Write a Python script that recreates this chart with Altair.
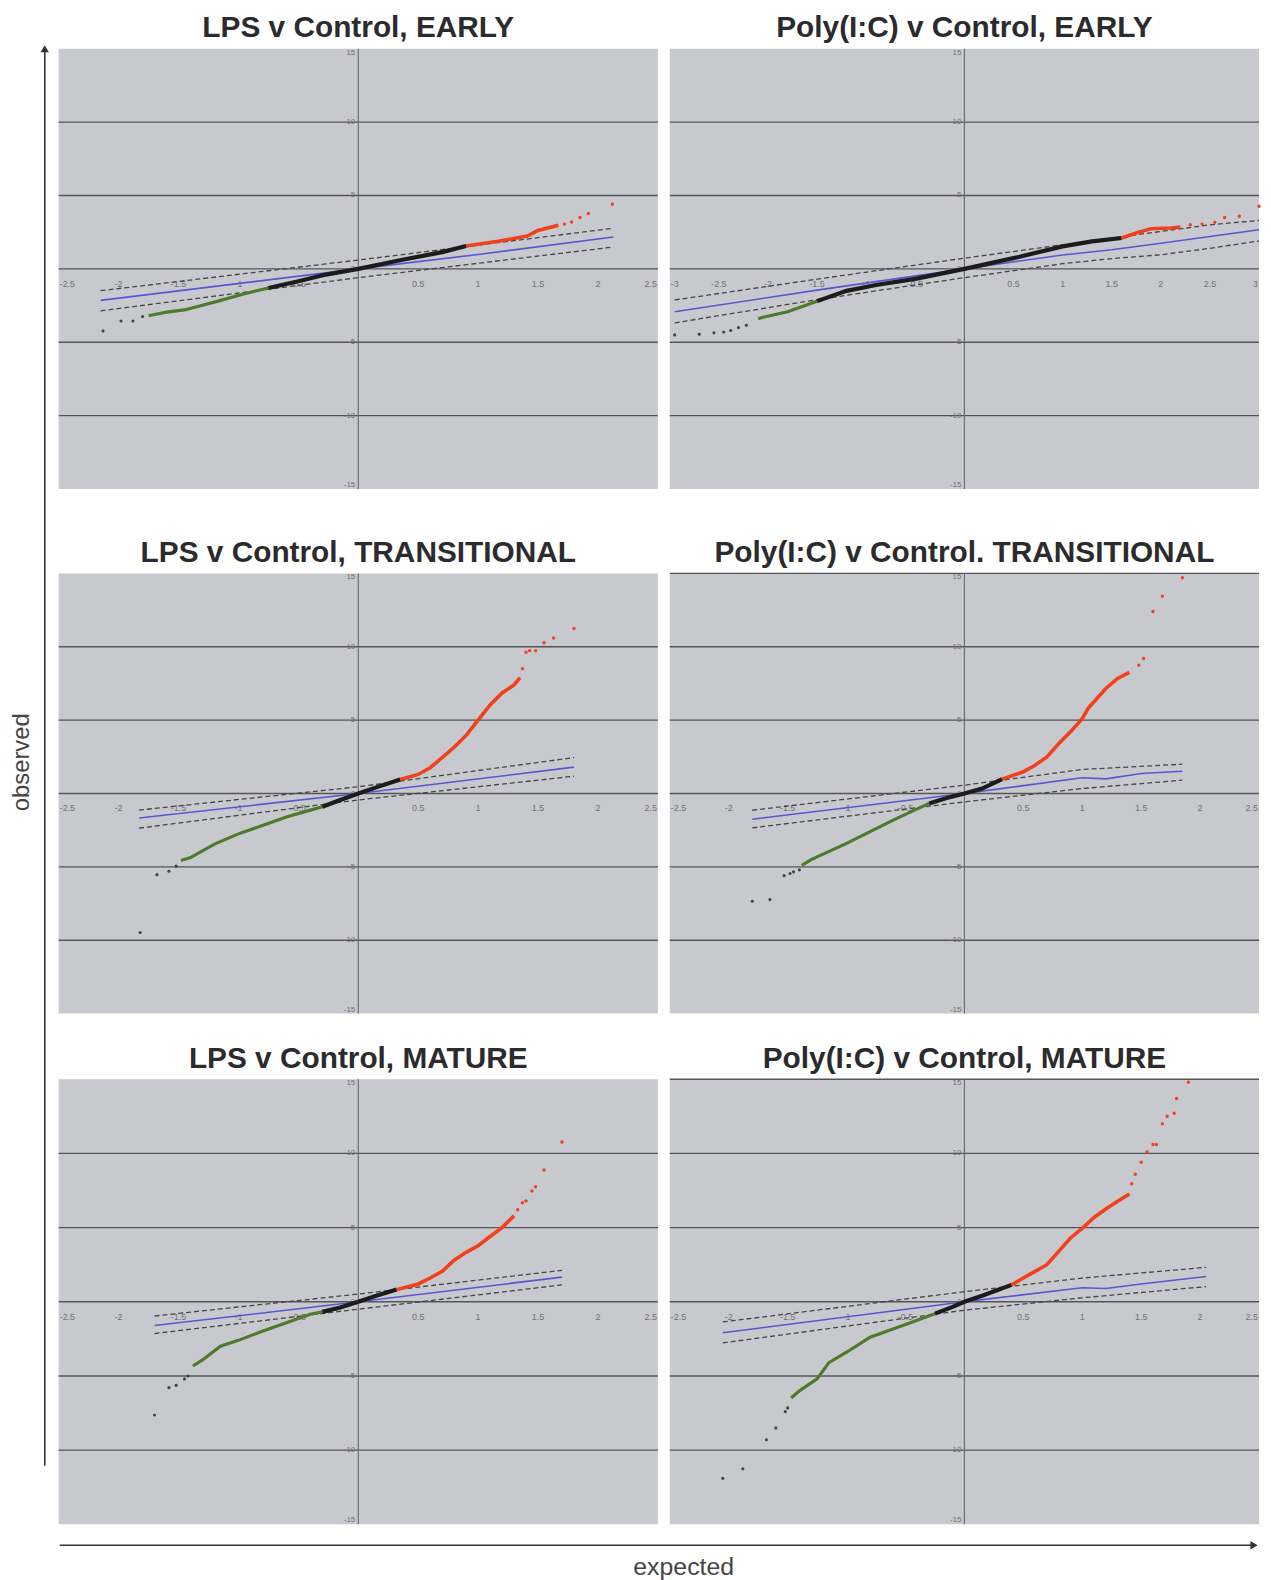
import altair as alt
import pandas as pd

# ---------------- titles / tick labels ----------------
TITLES = [
    "LPS v Control, EARLY",
    "Poly(I:C) v Control, EARLY",
    "LPS v Control, TRANSITIONAL",
    "Poly(I:C) v Control. TRANSITIONAL",
    "LPS v Control, MATURE",
    "Poly(I:C) v Control, MATURE",
]
X_TICKS_25 = [-2.5, -2, -1.5, -1, -0.5, 0.5, 1, 1.5, 2, 2.5]
X_LABELS_25 = ["-2.5", "-2", "-1.5", "-1", "-0.5", "0.5", "1", "1.5", "2", "2.5"]
X_TICKS_3 = [-3, -2.5, -2, -1.5, -1, -0.5, 0.5, 1, 1.5, 2, 2.5, 3]
X_LABELS_3 = ["-3", "-2.5", "-2", "-1.5", "-1", "-0.5", "0.5", "1", "1.5", "2", "2.5", "3"]
Y_TICKS = [-15, -10, -5, 0, 5, 10, 15]
Y_LABELS = ["-15", "-10", "-5", "0", "5", "10", "15"]
GRID_Y = [-10, -5, 0, 5, 10]
GRID_Y_TOP = [-10, -5, 0, 5, 10, 15]

# ---------------- panel 1: LPS v Control, EARLY ----------------
p1_low = [(-2.13, -4.23), (-1.98, -3.55), (-1.88, -3.55), (-1.8, -3.25)]
p1_green = [(-1.75, -3.2), (-1.6, -2.95), (-1.45, -2.8), (-1.17, -2.2), (-0.98, -1.76), (-0.75, -1.3)]
p1_black = [(-0.75, -1.3), (-0.5, -0.85), (-0.27, -0.39), (0, 0), (0.38, 0.64), (0.7, 1.14), (0.9, 1.56)]
p1_red = [(0.9, 1.56), (1.18, 1.9), (1.41, 2.24), (1.5, 2.62), (1.67, 2.97)]
p1_high = [(1.72, 3.05), (1.78, 3.2), (1.85, 3.5), (1.92, 3.78), (2.12, 4.4)]
p1_blue = [(-2.15, -2.15), (0, 0), (1, 0.98), (2.13, 2.17)]
p1_upper = [(-2.15, -1.49), (0, 0.6), (2.13, 2.77)]
p1_lower = [(-2.15, -2.86), (0, -0.6), (2.13, 1.49)]

# ---------------- panel 2: Poly(I:C) v Control, EARLY ----------------
p2_low = [(-2.95, -4.5), (-2.7, -4.45), (-2.55, -4.36), (-2.45, -4.3), (-2.38, -4.2), (-2.3, -4.0), (-2.22, -3.84)]
p2_green = [(-2.1, -3.4), (-2.05, -3.3), (-1.8, -2.92), (-1.5, -2.2)]
p2_black = [(-1.5, -2.2), (-1.2, -1.5), (-0.9, -1.1), (-0.5, -0.68), (0, 0), (0.5, 0.73), (1, 1.53), (1.3, 1.87), (1.6, 2.1)]
p2_red = [(1.6, 2.1), (1.75, 2.44), (1.9, 2.74), (2.1, 2.78), (2.2, 2.85)]
p2_high = [(2.3, 3.0), (2.42, 3.05), (2.55, 3.17), (2.65, 3.5), (2.8, 3.58), (3.0, 4.27)]
p2_blue = [(-2.95, -2.92), (-1.5, -1.45), (0, 0), (1, 0.95), (1.5, 1.3), (2, 1.75), (2.5, 2.2), (3, 2.67)]
p2_upper = [(-2.95, -2.12), (-1.5, -0.7), (0, 0.73), (1, 1.64), (1.5, 2.1), (2, 2.55), (2.5, 3.0), (3, 3.3)]
p2_lower = [(-2.95, -3.68), (-1.5, -2.1), (0, -0.6), (1, 0.35), (1.5, 0.7), (2, 0.96), (2.5, 1.4), (3, 1.9)]

# ---------------- panel 3: LPS v Control, TRANSITIONAL ----------------
p3_low = [(-1.82, -9.47), (-1.68, -5.53), (-1.58, -5.3), (-1.52, -4.95)]
p3_green = [(-1.48, -4.56), (-1.4, -4.37), (-1.2, -3.45), (-1.0, -2.75), (-0.8, -2.18), (-0.6, -1.6), (-0.4, -1.13), (-0.3, -0.9)]
p3_black = [(-0.3, -0.9), (-0.15, -0.44), (0, 0), (0.15, 0.42), (0.35, 0.95)]
p3_red = [(0.35, 0.95), (0.5, 1.3), (0.6, 1.76), (0.7, 2.45), (0.8, 3.15), (0.9, 3.96), (1.0, 5.0), (1.1, 6.04), (1.2, 6.85), (1.3, 7.4), (1.35, 7.9)]
p3_high = [(1.37, 8.5), (1.4, 9.63), (1.43, 9.74), (1.48, 9.74), (1.55, 10.28), (1.63, 10.6), (1.8, 11.25)]
p3_blue = [(-1.83, -1.67), (0, 0), (1.8, 1.8)]
p3_upper = [(-1.83, -1.13), (0, 0.46), (1.8, 2.45)]
p3_lower = [(-1.83, -2.36), (0, -0.44), (1.8, 1.18)]

# ---------------- panel 4: Poly(I:C) v Control, TRANSITIONAL ----------------
p4_low = [(-1.8, -7.34), (-1.65, -7.23), (-1.53, -5.6), (-1.48, -5.45), (-1.45, -5.34), (-1.4, -5.2)]
p4_green = [(-1.38, -4.9), (-1.3, -4.5), (-1.0, -3.4), (-0.8, -2.6), (-0.6, -1.8), (-0.4, -1.05), (-0.3, -0.68)]
p4_black = [(-0.3, -0.68), (-0.15, -0.3), (0, 0), (0.15, 0.34), (0.32, 0.98)]
p4_red = [(0.32, 0.98), (0.5, 1.48), (0.6, 1.93), (0.7, 2.5), (0.8, 3.4), (0.9, 4.2), (1.0, 5.1), (1.05, 5.8), (1.1, 6.25), (1.2, 7.16), (1.3, 7.84), (1.4, 8.25)]
p4_high = [(1.48, 8.75), (1.52, 9.2), (1.6, 12.4), (1.68, 13.45), (1.85, 14.7)]
p4_blue = [(-1.8, -1.75), (0, 0), (1.0, 1.07), (1.2, 1.0), (1.5, 1.36), (1.85, 1.52)]
p4_upper = [(-1.8, -1.14), (0, 0.57), (1, 1.64), (1.85, 2.0)]
p4_lower = [(-1.8, -2.34), (0, -0.57), (1, 0.34), (1.85, 0.91)]

# ---------------- panel 5: LPS v Control, MATURE ----------------
p5_low = [(-1.7, -7.63), (-1.58, -5.79), (-1.52, -5.63), (-1.45, -5.2), (-1.42, -5.0)]
p5_green = [(-1.38, -4.33), (-1.3, -3.92), (-1.15, -3.0), (-1.0, -2.6), (-0.8, -1.98), (-0.6, -1.41), (-0.4, -0.84), (-0.3, -0.68)]
p5_black = [(-0.3, -0.68), (-0.15, -0.39), (0, 0), (0.15, 0.41), (0.32, 0.82)]
p5_red = [(0.32, 0.82), (0.5, 1.2), (0.6, 1.6), (0.7, 2.05), (0.8, 2.8), (0.9, 3.33), (1.0, 3.78), (1.1, 4.4), (1.2, 5.0), (1.3, 5.8)]
p5_high = [(1.33, 6.2), (1.37, 6.67), (1.4, 6.8), (1.45, 7.47), (1.48, 7.75), (1.55, 8.88), (1.7, 10.77)]
p5_blue = [(-1.7, -1.6), (0, 0), (1.7, 1.66)]
p5_upper = [(-1.7, -0.96), (0, 0.52), (1.7, 2.12)]
p5_lower = [(-1.7, -2.14), (0, -0.5), (1.7, 1.14)]

# ---------------- panel 6: Poly(I:C) v Control, MATURE ----------------
p6_low = [(-2.05, -11.9), (-1.88, -11.25), (-1.68, -9.3), (-1.6, -8.5), (-1.52, -7.4), (-1.5, -7.15)]
p6_green = [(-1.47, -6.48), (-1.4, -6.0), (-1.25, -5.2), (-1.15, -4.1), (-1.0, -3.4), (-0.8, -2.39), (-0.6, -1.82), (-0.4, -1.25), (-0.25, -0.8)]
p6_black = [(-0.25, -0.8), (-0.1, -0.34), (0, 0), (0.15, 0.41), (0.4, 1.14)]
p6_red = [(0.4, 1.14), (0.5, 1.6), (0.6, 2.05), (0.7, 2.5), (0.8, 3.4), (0.9, 4.3), (1.0, 4.95), (1.1, 5.68), (1.2, 6.25), (1.3, 6.77), (1.4, 7.27)]
p6_high = [(1.42, 7.95), (1.45, 8.6), (1.5, 9.4), (1.55, 10.1), (1.6, 10.6), (1.63, 10.6), (1.68, 12.0), (1.72, 12.5), (1.78, 12.7), (1.8, 13.7), (1.9, 14.8)]
p6_blue = [(-2.05, -2.09), (0, 0), (1, 0.95), (1.2, 0.9), (1.5, 1.2), (2.05, 1.7)]
p6_upper = [(-2.05, -1.36), (0, 0.68), (1, 1.6), (2.05, 2.32)]
p6_lower = [(-2.05, -2.77), (0, -0.57), (1, 0.27), (2.05, 1.02)]

# ---------------- styling ----------------
COL1_W = 603
COL2_W = 593
ROW_H = [443, 443, 448]
BG = "#c8c9ce"
GRID_C = "#555558"
FONT = "Liberation Sans"
C_GREEN = "#4e7a2c"
C_BLACK = "#1c1c1c"
C_RED = "#f0401c"
C_BLUE = "#5757d0"
C_DASH = "#454545"
C_LOW = "#3d4a33"
C_TICK = "#707074"


def df(pairs):
    return pd.DataFrame(pairs, columns=["x", "y"])


def panel(title, width, height, xdom, xticks, xlabels, low, green, black, red, high, blue, upper, lower, gridy):
    xs = alt.Scale(domain=xdom, nice=False, zero=False)
    ys = alt.Scale(domain=[-15, 15], nice=False, zero=False)
    X = alt.X("x:Q", scale=xs, axis=None)
    Y = alt.Y("y:Q", scale=ys, axis=None)

    grid = alt.Chart(pd.DataFrame({"y": gridy})).mark_rule(
        color=GRID_C, strokeWidth=1.4).encode(y=Y)
    vaxis = alt.Chart(pd.DataFrame({"x": [0]})).mark_rule(
        color="#66666a", strokeWidth=1.1).encode(x=X)

    # x tick labels: inner ones centred, edge ones kept inside the plot
    def xl(ticks, labels, align, dx):
        d = pd.DataFrame({"x": ticks, "y": [0] * len(ticks), "t": labels})
        return alt.Chart(d).mark_text(dy=15, dx=dx, align=align, fontSize=9, font=FONT,
                                      color=C_TICK).encode(x=X, y=Y, text="t:N")

    xlab_l = xl(xticks[:1], xlabels[:1], "left", 1)
    xlab_m = xl(xticks[1:-1], xlabels[1:-1], "center", 0)
    xlab_r = xl(xticks[-1:], xlabels[-1:], "right", -1)

    def yl(ticks, labels, baseline):
        d = pd.DataFrame({"x": [0] * len(ticks), "y": ticks, "t": labels})
        return alt.Chart(d).mark_text(dx=-3, align="right", baseline=baseline, fontSize=8,
                                      font=FONT, color=C_TICK).encode(x=X, y=Y, text="t:N")

    ylab_b = yl(Y_TICKS[:1], Y_LABELS[:1], "bottom")
    ylab_m = yl(Y_TICKS[1:-1], Y_LABELS[1:-1], "middle")
    ylab_t = yl(Y_TICKS[-1:], Y_LABELS[-1:], "top")

    up = alt.Chart(df(upper)).mark_line(color=C_DASH, strokeWidth=1.3, strokeDash=[5, 3]).encode(x=X, y=Y)
    lo = alt.Chart(df(lower)).mark_line(color=C_DASH, strokeWidth=1.3, strokeDash=[5, 3]).encode(x=X, y=Y)
    bl = alt.Chart(df(blue)).mark_line(color=C_BLUE, strokeWidth=1.6).encode(x=X, y=Y)
    gr = alt.Chart(df(green)).mark_line(color=C_GREEN, strokeWidth=3.2).encode(x=X, y=Y)
    bk = alt.Chart(df(black)).mark_line(color=C_BLACK, strokeWidth=4.2).encode(x=X, y=Y)
    rd = alt.Chart(df(red)).mark_line(color=C_RED, strokeWidth=3.6).encode(x=X, y=Y)
    lp = alt.Chart(df(low)).mark_circle(color=C_LOW, size=10, opacity=1).encode(x=X, y=Y)
    hp = alt.Chart(df(high)).mark_circle(color=C_RED, size=12, opacity=1).encode(x=X, y=Y)

    return alt.layer(grid, vaxis, xlab_l, xlab_m, xlab_r, ylab_b, ylab_m, ylab_t,
                     up, lo, bl, gr, bk, rd, lp, hp).properties(
        width=width, height=height,
        view=alt.ViewBackground(fill=BG, stroke=None),
        title=alt.TitleParams(title, fontSize=30, font=FONT, fontWeight="bold",
                              color="#2b2b2e", offset=5, anchor="middle"),
    )


P1 = panel(TITLES[0], COL1_W, ROW_H[0], [-2.5, 2.5], X_TICKS_25, X_LABELS_25, p1_low, p1_green, p1_black, p1_red, p1_high, p1_blue, p1_upper, p1_lower, GRID_Y)
P2 = panel(TITLES[1], COL2_W, ROW_H[0], [-3, 3], X_TICKS_3, X_LABELS_3, p2_low, p2_green, p2_black, p2_red, p2_high, p2_blue, p2_upper, p2_lower, GRID_Y)
P3 = panel(TITLES[2], COL1_W, ROW_H[1], [-2.5, 2.5], X_TICKS_25, X_LABELS_25, p3_low, p3_green, p3_black, p3_red, p3_high, p3_blue, p3_upper, p3_lower, GRID_Y)
P4 = panel(TITLES[3], COL2_W, ROW_H[1], [-2.5, 2.5], X_TICKS_25, X_LABELS_25, p4_low, p4_green, p4_black, p4_red, p4_high, p4_blue, p4_upper, p4_lower, GRID_Y_TOP)
P5 = panel(TITLES[4], COL1_W, ROW_H[2], [-2.5, 2.5], X_TICKS_25, X_LABELS_25, p5_low, p5_green, p5_black, p5_red, p5_high, p5_blue, p5_upper, p5_lower, GRID_Y)
P6 = panel(TITLES[5], COL2_W, ROW_H[2], [-2.5, 2.5], X_TICKS_25, X_LABELS_25, p6_low, p6_green, p6_black, p6_red, p6_high, p6_blue, p6_upper, p6_lower, GRID_Y_TOP)

row1 = alt.hconcat(P1, P2, spacing=10)
row2 = alt.hconcat(P3, P4, spacing=10)
row3 = alt.hconcat(P5, P6, spacing=10)
grid_all = alt.vconcat(alt.vconcat(row1, row2, spacing=48), row3, spacing=29)

dummy = pd.DataFrame({"a": [0]})

# left strip is aligned with the first plot area
left = alt.layer(
    alt.Chart(dummy).mark_rule(color="#333", strokeWidth=1.6).encode(
        x=alt.value(37), y=alt.value(2), y2=alt.value(1426)),
    alt.Chart(dummy).mark_point(shape="triangle-up", filled=True, size=70, color="#333", opacity=1).encode(
        x=alt.value(37), y=alt.value(0)),
    alt.Chart(pd.DataFrame({"t": ["observed"]})).mark_text(
        angle=270, fontSize=24, font=FONT, color="#444").encode(
        text="t:N", x=alt.value(14), y=alt.value(718)),
).properties(width=44, height=1460, view=alt.ViewBackground(stroke=None))

bottom = alt.layer(
    alt.Chart(dummy).mark_rule(color="#333", strokeWidth=1.6).encode(
        x=alt.value(52), x2=alt.value(1251), y=alt.value(20)),
    alt.Chart(dummy).mark_point(shape="triangle-right", filled=True, size=70, color="#333", opacity=1).encode(
        x=alt.value(1254), y=alt.value(20)),
    alt.Chart(pd.DataFrame({"t": ["expected"]})).mark_text(
        fontSize=25, font=FONT, color="#444").encode(
        text="t:N", x=alt.value(680), y=alt.value(42)),
).properties(width=1255, height=54, view=alt.ViewBackground(stroke=None))

chart = alt.vconcat(
    alt.hconcat(left, grid_all, spacing=6),
    bottom,
    spacing=0,
).properties(padding={"left": 0, "top": 0, "right": 0, "bottom": 0}).configure_view(stroke=None)

chart.save("out.html", embed_options={"renderer": "svg", "actions": False})
